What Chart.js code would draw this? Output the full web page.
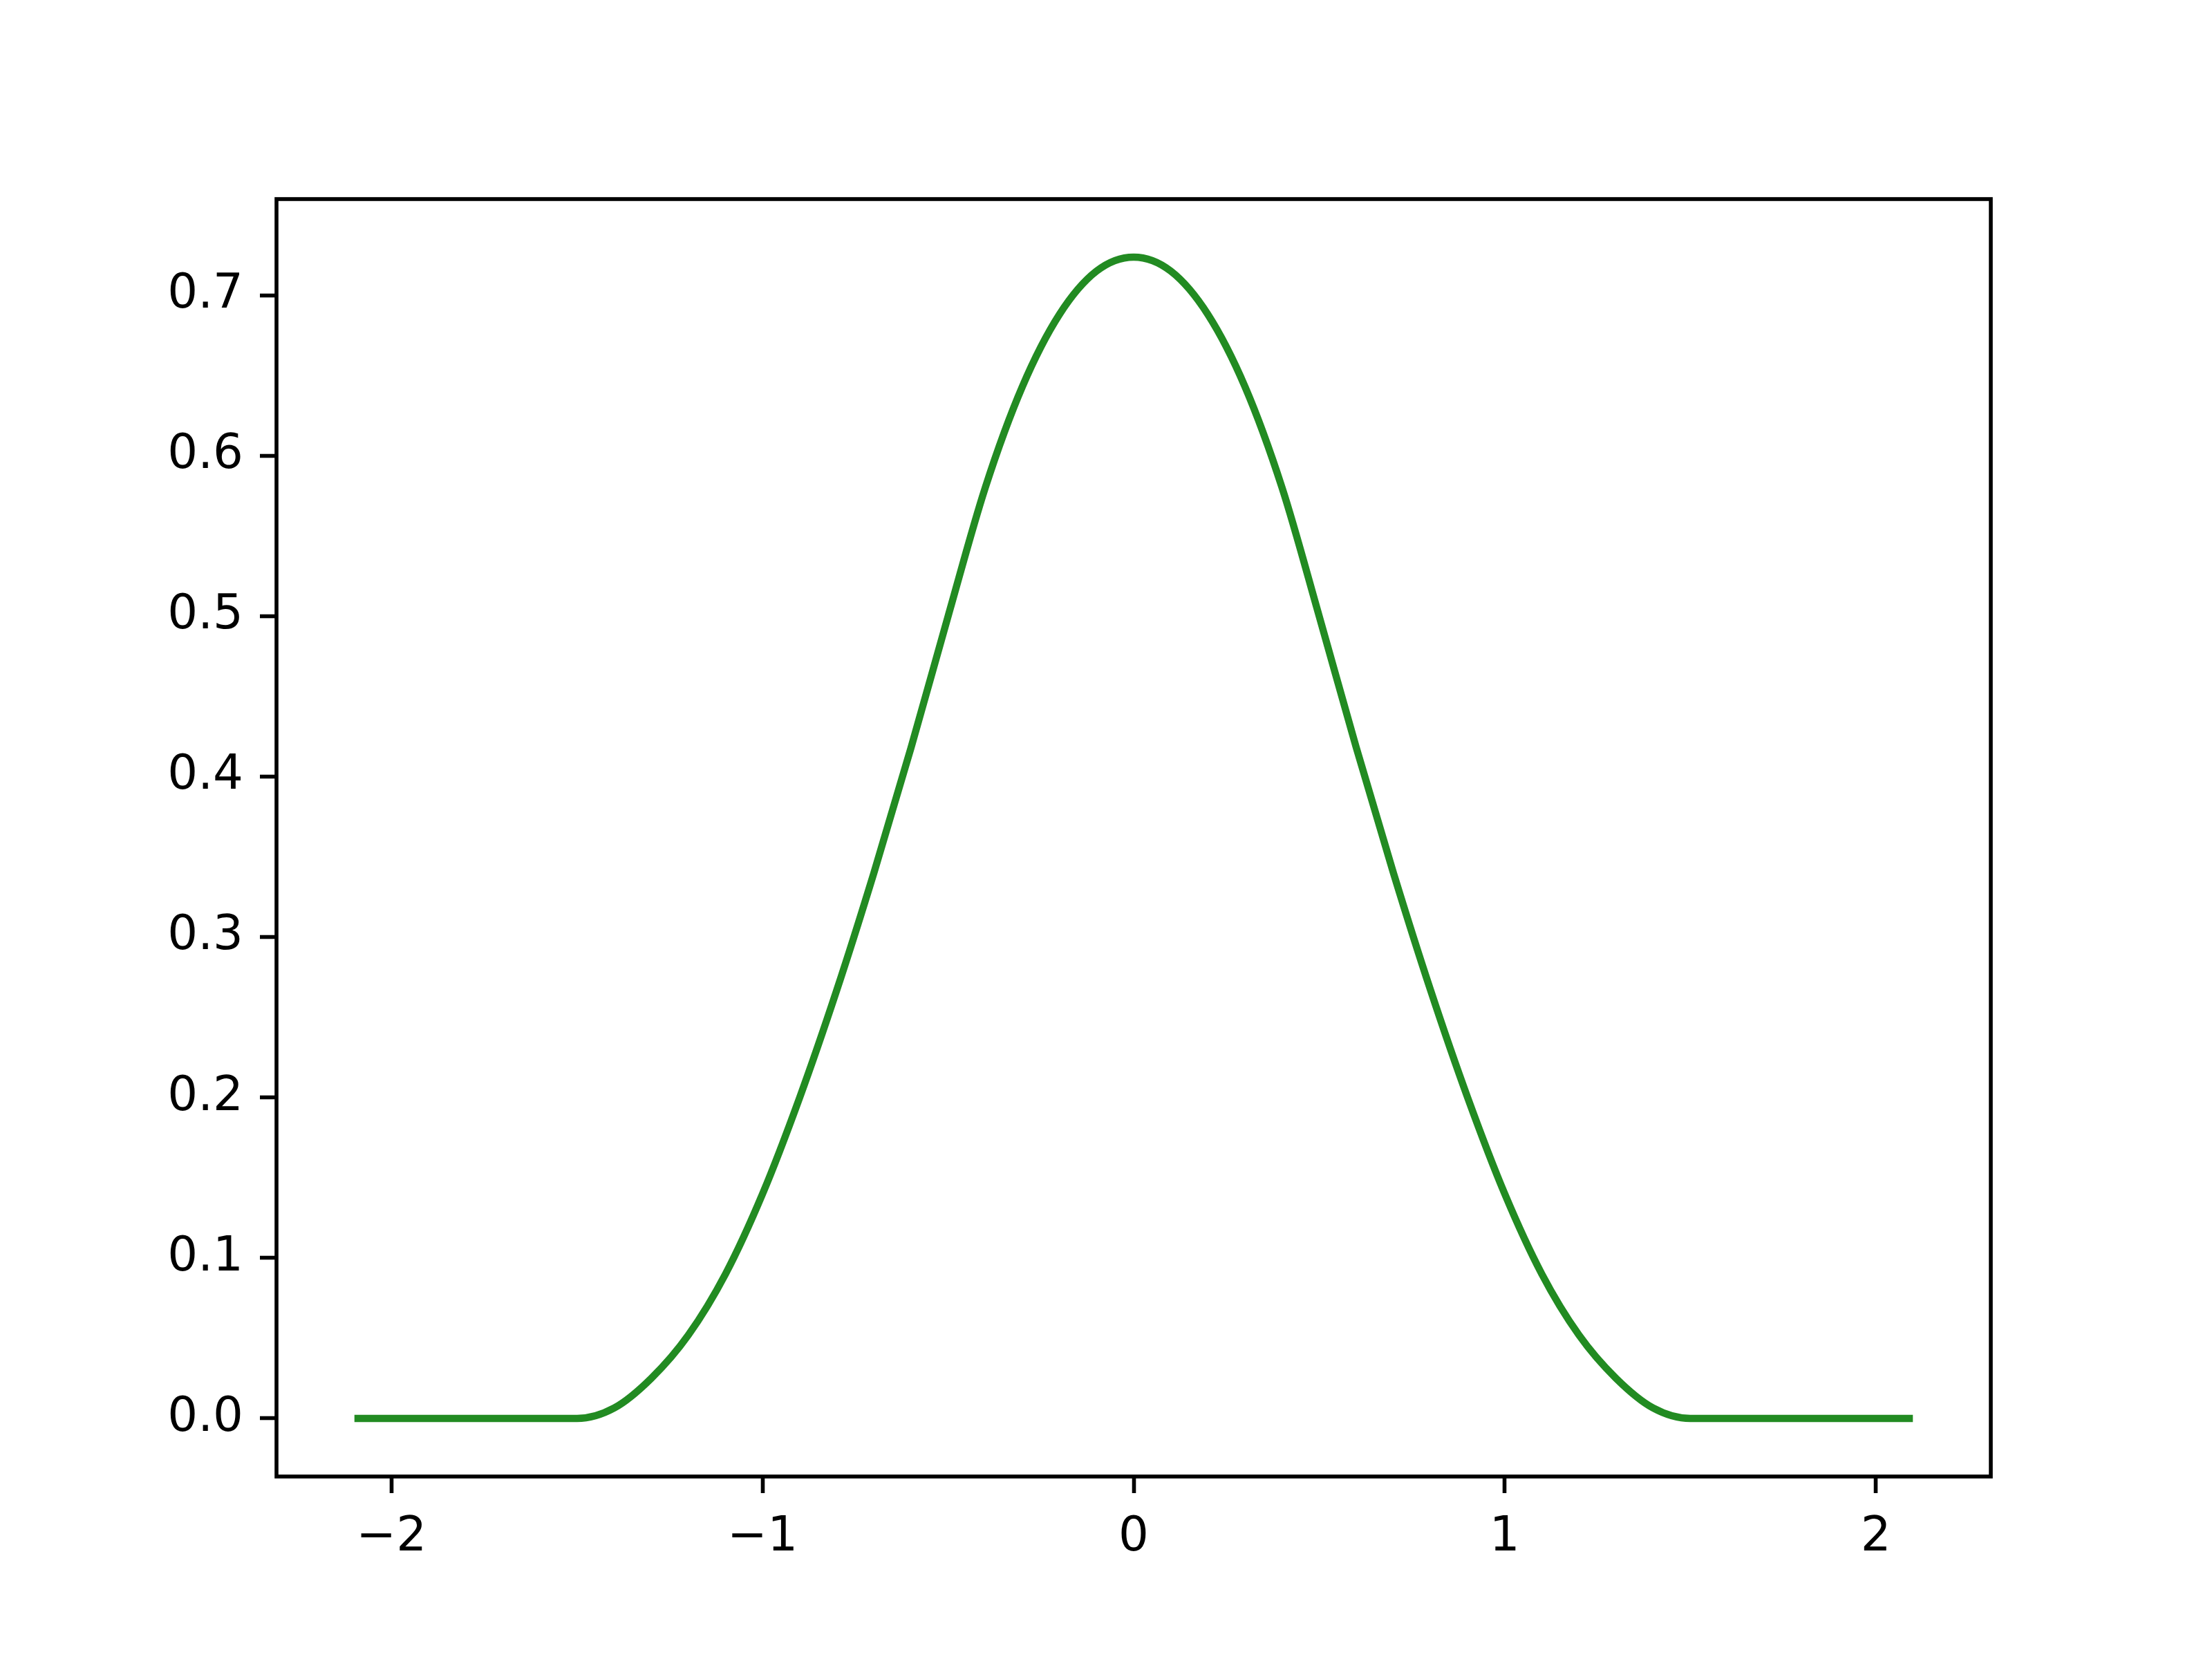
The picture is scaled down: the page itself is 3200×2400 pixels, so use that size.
<!DOCTYPE html>
<html>
<head>
<meta charset="utf-8">
<script src="https://cdn.jsdelivr.net/npm/chart.js@4"></script>
<style>
  html, body { margin: 0; padding: 0; background: #fff; }
  canvas { display: block; }
</style>
</head>
<body>
<canvas id="plot" width="3200" height="2400"></canvas>
<script>
// curve samples
const xValues = [-2.1, -1.5, -1.4, -1.3, -1.2, -1.1, -1.0, -0.9, -0.8, -0.7, -0.6, -0.5, -0.4, -0.3, -0.2, -0.1,
                 0.0, 0.1, 0.2, 0.3, 0.4, 0.5, 0.6, 0.7, 0.8, 0.9, 1.0, 1.1, 1.2, 1.3, 1.4, 1.5, 2.1];
const yValues = [0, 0, 0.0065, 0.025, 0.052, 0.090, 0.140, 0.200, 0.267, 0.340, 0.418, 0.5, 0.58, 0.643, 0.688, 0.715,
                 0.7237, 0.715, 0.688, 0.643, 0.58, 0.5, 0.418, 0.340, 0.267, 0.200, 0.140, 0.090, 0.052, 0.025, 0.0065, 0, 0];
const xTicks = [-2, -1, 0, 1, 2];
const yTicks = [0, 0.1, 0.2, 0.3, 0.4, 0.5, 0.6, 0.7];
const xRange = [-2.31, 2.31];
const yRange = [-0.0362, 0.7599];

const FONT = { family: 'DejaVu Sans', size: 69 };
const LW = 5.6;

function fmtMinus(v) {
    return v < 0 ? '\u2212' + Math.abs(v) : String(v);
}

// box around the plot area (matplotlib style spines)
const frame = {
    id: 'frame',
    afterDatasetsDraw(chart) {
        const a = chart.chartArea;
        const ctx = chart.ctx;
        ctx.save();
        ctx.strokeStyle = '#000';
        ctx.lineWidth = LW;
        ctx.strokeRect(a.left, a.top, a.right - a.left, a.bottom - a.top);
        ctx.restore();
    }
};

const ctx = document.getElementById('plot').getContext('2d');
new Chart(ctx, {
    type: 'line',
    data: {
        datasets: [{
            data: xValues.map((x, i) => ({ x: x, y: yValues[i] })),
            borderColor: '#228B22',
            borderWidth: 10.4,
            pointRadius: 0,
            fill: false,
            cubicInterpolationMode: 'monotone'
        }]
    },
    options: {
        responsive: false,
        animation: false,
        devicePixelRatio: 1,
        layout: { padding: { left: 0, top: 288, right: 320, bottom: 0 } },
        plugins: { legend: { display: false }, tooltip: { enabled: false } },
        scales: {
            x: {
                type: 'linear',
                min: xRange[0],
                max: xRange[1],
                afterBuildTicks: s => { s.ticks = xTicks.map(v => ({ value: v })); },
                afterFit: s => { s.height = 264; },
                grid: { drawOnChartArea: false, tickLength: 24, tickWidth: LW, tickColor: '#000' },
                border: { display: false },
                ticks: { color: '#000', font: FONT, padding: 24, maxRotation: 0, callback: v => fmtMinus(v) }
            },
            y: {
                type: 'linear',
                min: yRange[0],
                max: yRange[1],
                afterBuildTicks: s => { s.ticks = yTicks.map(v => ({ value: v })); },
                afterFit: s => { s.width = 400; },
                grid: { drawOnChartArea: false, tickLength: 24, tickWidth: LW, tickColor: '#000' },
                border: { display: false },
                ticks: { color: '#000', font: FONT, padding: 24, callback: v => v.toFixed(1) }
            }
        }
    },
    plugins: [frame]
});
</script>
</body>
</html>
